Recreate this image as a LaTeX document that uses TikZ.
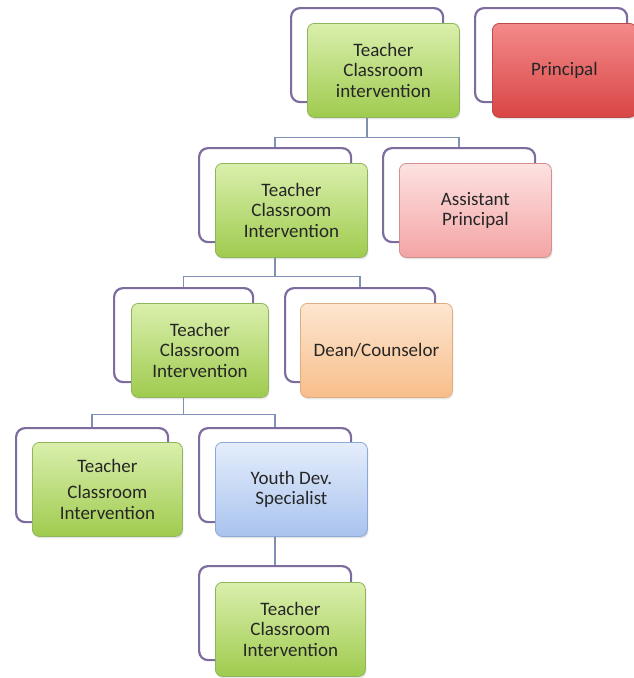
\documentclass[tikz,border=0pt]{standalone}
\usepackage{fontspec}
\setmainfont{Carlito}
\usetikzlibrary{shadows}

\definecolor{framepurple}{HTML}{7D6C9E}
\definecolor{linkblue}{HTML}{7F90B2}
\definecolor{textgray}{HTML}{262626}
\definecolor{greentop}{HTML}{DAEFAC}
\definecolor{greenbot}{HTML}{9FCB4F}
\definecolor{greenline}{HTML}{8FB55A}
\definecolor{redtop}{HTML}{F48A8A}
\definecolor{redbot}{HTML}{D94545}
\definecolor{redline}{HTML}{B94A48}
\definecolor{pinktop}{HTML}{FDE2E2}
\definecolor{pinkbot}{HTML}{F4A4A4}
\definecolor{pinkline}{HTML}{D38F8D}
\definecolor{peachtop}{HTML}{FDE6D0}
\definecolor{peachbot}{HTML}{F8BE8A}
\definecolor{peachline}{HTML}{E0AC82}
\definecolor{bluetop}{HTML}{E4EDFB}
\definecolor{bluebot}{HTML}{A9C3EE}
\definecolor{blueline}{HTML}{8CA8D6}

\begin{document}
\begin{tikzpicture}[x=1pt, y=-1pt,
        frame/.style={draw=framepurple, line width=2.2pt, fill=white,
            rounded corners=9pt, minimum height=94pt, anchor=north west},
        box/.style={line width=0.8pt, rounded corners=7pt,
            minimum width=152pt, minimum height=94pt, anchor=north west,
            align=center, text=textgray, font=\fontsize{19}{20.5}\selectfont,
            drop shadow={opacity=0.2, shadow xshift=1pt, shadow yshift=-2pt}},
        greenbox/.style={box, draw=greenline, top color=greentop, bottom color=greenbot},
        redbox/.style={box, draw=redline, top color=redtop, bottom color=redbot},
        pinkbox/.style={box, draw=pinkline, top color=pinktop, bottom color=pinkbot},
        peachbox/.style={box, draw=peachline, top color=peachtop, bottom color=peachbot},
        bluebox/.style={box, draw=blueline, top color=bluetop, bottom color=bluebot},
        link/.style={draw=linkblue, line width=1.3pt}]

    \useasboundingbox (0,0) rectangle (634,678);
    \clip (0,0) rectangle (634,678);

    % purple frames behind the boxes
    \foreach \n/\x/\y/\w in {one/290/7/152, prin/474/7/152,
                             two/198/147/152, asst/382/147/152,
                             three/113/287/139, dean/284/287/150,
                             four/15/427/152, youth/198/427/152,
                             five/198/565/152}{
        \node[frame, minimum width=\w pt] (f\n) at (\x,\y) {};
    }

    % connectors
    \draw[link] (fone.south) -- ++(0,34) -| (ftwo.north);
    \draw[link] (fone.south) -- ++(0,34) -| (fasst.north);
    \draw[link] (ftwo.south) -- ++(0,33) -| (fthree.north);
    \draw[link] (ftwo.south) -- ++(0,33) -| (fdean.north);
    \draw[link] (fthree.south) -- ++(0,31) -| (ffour.north);
    \draw[link] (fthree.south) -- ++(0,31) -| (fyouth.north);
    \draw[link] (fyouth.south) -- (ffive.north);

    % boxes
    \node[greenbox] (one) at (307,23) {Teacher\\Classroom\\intervention};
    \node[redbox, minimum width=144pt] (prin) at (492,23) {Principal};

    \node[greenbox] (two) at (215,163) {Teacher\\Classroom\\Intervention};
    \node[pinkbox] (asst) at (399,163) {Assistant\\Principal};

    \node[greenbox, minimum width=137pt] (three) at (131,303) {Teacher\\Classroom\\Intervention};
    \node[peachbox] (dean) at (300,303) {Dean/Counselor};

    \node[greenbox, minimum width=150pt] (four) at (32,442) {Teacher\\[6pt]Classroom\\Intervention};
    \node[bluebox] (youth) at (215,442) {Youth Dev.\\Specialist};

    \node[greenbox, minimum width=150pt] (five) at (215,582) {Teacher\\Classroom\\Intervention};

\end{tikzpicture}
\end{document}
